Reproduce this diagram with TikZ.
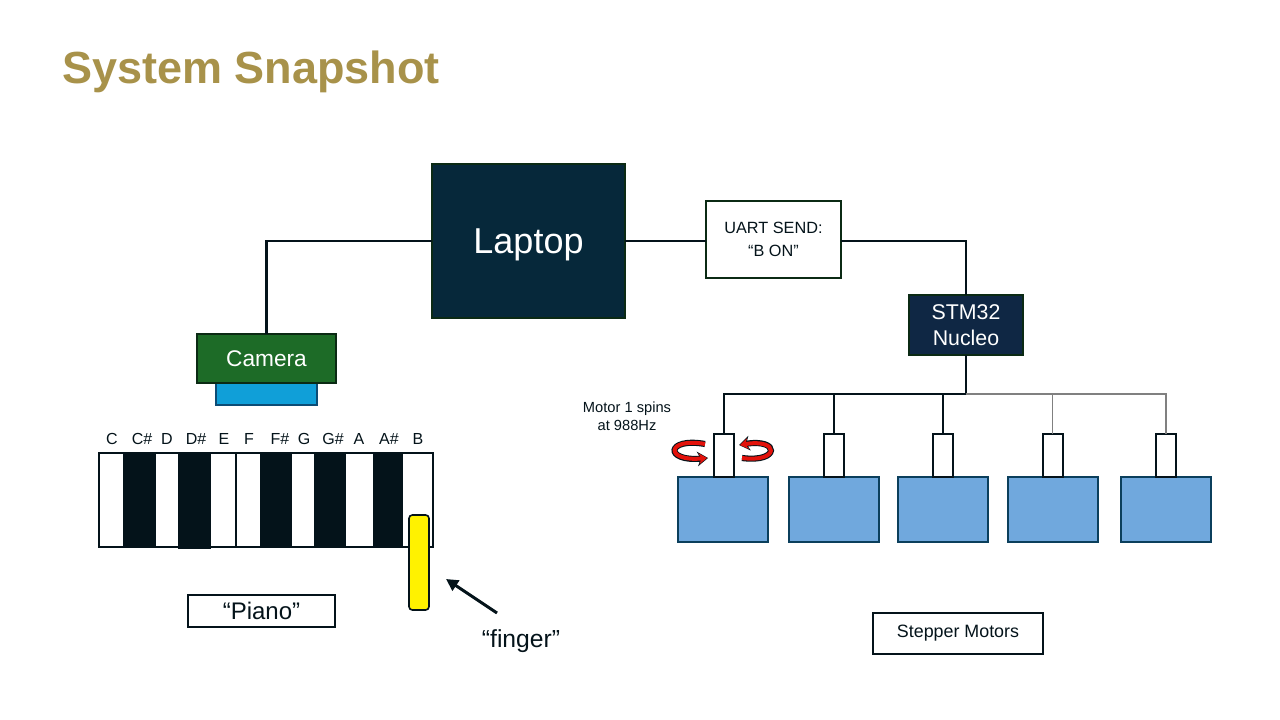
\documentclass[tikz,border=0pt]{standalone}
\usepackage{fontspec}
\setmainfont{Liberation Sans}
\usetikzlibrary{arrows.meta}
\definecolor{gold}{HTML}{A8924A}
\definecolor{navy}{HTML}{06283A}
\definecolor{navyb}{HTML}{0F2744}
\definecolor{dkgreen}{HTML}{0B2A14}
\definecolor{camgreen}{HTML}{1D6B27}
\definecolor{lens}{HTML}{109FD8}
\definecolor{lensb}{HTML}{0C4C75}
\definecolor{motorfill}{HTML}{70A8DD}
\definecolor{motorb}{HTML}{0B3F5C}
\definecolor{ink}{HTML}{04131A}
\definecolor{rotred}{HTML}{E3120B}
\definecolor{busgray}{HTML}{808080}
\begin{document}
\begin{tikzpicture}[x=0.75pt,y=-0.75pt,
  every node/.style={inner sep=0pt,outer sep=0pt},
  pbox/.style 2 args={minimum width={#1*0.75pt},minimum height={#2*0.75pt}},
  wire/.style={ink,line width=2.2pt},
  bus/.style={ink,line width=0.9pt},
  busg/.style={busgray,line width=0.9pt},
  keylab/.style={font=\fontsize{12}{14}\selectfont,text=ink},
  labelbox/.style={draw=ink,line width=1.5pt,fill=white,text=ink},
  shaft/.style={pbox={20}{43},draw=ink,line width=1.5pt,fill=white},
  motor/.style={pbox={90}{65},draw=motorb,line width=1.5pt,fill=motorfill},
  rotout/.style={line width=4.6pt,ink,-{Stealth[length=8pt,width=11pt]}},
  rotin/.style={line width=3pt,rotred,-{Stealth[length=6pt,width=8pt]}}
]
\useasboundingbox (0,0) rectangle (1280,720);
\fill[white] (0,0) rectangle (1280,720);

% title
\node[anchor=base west,text=gold,font=\bfseries\fontsize{33.75}{40}\selectfont] (title) at (62,84) {System Snapshot};

% laptop, camera
\node[pbox={193}{154},fill=navy,draw=dkgreen,line width=1.5pt,text=white,text depth=0pt,font=\fontsize{27}{32}\selectfont] (laptop) at (528.5,241) {Laptop};
\node[pbox={101}{22},fill=lens,draw=lensb,line width=1.5pt] (lensbox) at (266.5,394) {};
\node[pbox={139}{49},fill=camgreen,draw=dkgreen,line width=1.5pt,text=white,font=\fontsize{17}{20}\selectfont] (camera) at (266.5,358.5) {Camera};

% UART and STM32
\node[pbox={135}{76},draw=dkgreen,line width=1.5pt,fill=white,text=ink,align=center,font=\fontsize{12.2}{17}\selectfont] (uart) at (773.5,239.5) {UART SEND:\\“B ON”};
\node[pbox={114}{60},fill=navyb,draw=dkgreen,line width=1.5pt,text=white,align=center,font=\fontsize{16}{19}\selectfont] (stm) at (966,325) {STM32\\Nucleo};

\draw[wire] (laptop.west) -| (camera.north);
\draw[wire] (laptop.east) -- (uart.west |- laptop.east);
\draw[wire] (uart.east |- laptop.east) -| (stm.north);

% motors
\foreach \i/\sx/\mx in {1/724/723,2/834/834,3/943/943,4/1052.5/1052.5,5/1166/1166}{
  \node[motor] (m\i) at (\mx,509.5) {};
  \node[shaft] (sh\i) at (\sx,455.5) {};
}
\draw[bus] (stm.south) -- ++(0,39) coordinate (hub);
\draw[bus] (hub) -| (sh1.north);
\draw[bus] (hub) -| (sh2.north);
\draw[bus] (hub) -| (sh3.north);
\draw[busg] (hub) -| (sh4.north);
\draw[busg] (hub) -| (sh5.north);

\node[align=center,text=ink,font=\fontsize{11}{13.5}\selectfont] (spin) at (627,416) {Motor 1 spins\\at 988Hz};

% rotation arrows
\draw[rotout] (705,444) .. controls (666,437) and (664,462) .. (708,458);
\draw[rotin] (705,444) .. controls (666,437) and (664,462) .. (707,458);
\draw[rotout] (742,458) .. controls (780,463) and (780,438) .. (739,445);
\draw[rotin] (742,458) .. controls (780,463) and (780,438) .. (740,445);

\node[labelbox,pbox={170}{41},font=\fontsize{13.4}{16}\selectfont] (stepper) at (958,633.5) {Stepper Motors};

% piano
\node[pbox={334}{94},draw=ink,line width=1.5pt,fill=white] (piano) at (266,500) {};
\fill[ink] (123,453) rectangle (156,547);
\fill[ink] (178,452) rectangle (211,548.5);
\fill[ink] (260,453) rectangle (292,547);
\fill[ink] (314,453) rectangle (346,547);
\fill[ink] (373,453) rectangle (403,547);
\draw[ink,line width=1.5pt] (236,453) -- (236,547);
\draw[ink,line width=1.5pt] (piano.north west) rectangle (piano.south east);

\foreach \n/\x/\t in {kc/112/C,kcs/142/C\#,kd/167/D,kds/196/D\#,ke/224/E,kf/249/F,kfs/280/F\#,kg/304/G,kgs/333/G\#,ka/359/A,kas/389/A\#,kb/418/B}{
  \node[keylab] (\n) at (\x,439) {\t};
}

\node[pbox={20}{95},draw=ink,line width=1.2pt,fill=yellow,rounded corners=2.5pt] (finger) at (419,562.5) {};
\node[labelbox,pbox={147}{32},font=\fontsize{18}{21}\selectfont] (pianolab) at (261.5,611) {“Piano”};

\coordinate (ftail) at (497,613);
\coordinate (fhead) at (446,579);
\draw[ink,line width=2.2pt,-{Triangle[length=9pt,width=9pt]}] (ftail) -- (fhead);
\node[text=ink,font=\fontsize{18.5}{22}\selectfont] (fingerlab) at (521,641) {“finger”};
\end{tikzpicture}
\end{document}
